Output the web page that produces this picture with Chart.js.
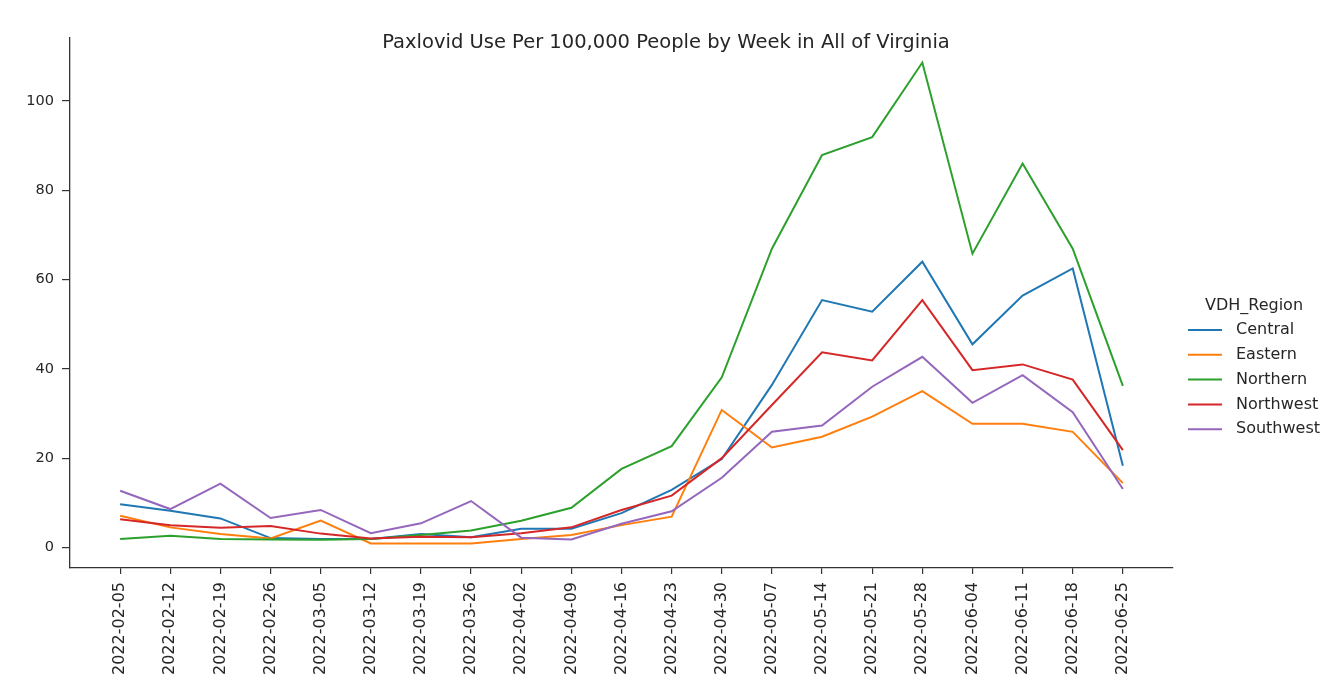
<!DOCTYPE html>
<html>
<head>
<meta charset="utf-8">
<title>Paxlovid Use Per 100,000 People by Week</title>
<script src="https://cdn.jsdelivr.net/npm/chart.js@4/dist/chart.umd.min.js"></script>
<style>
    html, body {
        margin: 0;
        padding: 0;
        background: #ffffff;
        overflow: hidden;
    }
    #chart-wrap {
        width: 1325px;
        height: 685px;
    }
</style>
</head>
<body>
<div id="chart-wrap">
    <canvas id="paxlovidChart" width="1325" height="685"></canvas>
</div>
<script>
const weeks = [
    "2022-02-05", "2022-02-12", "2022-02-19", "2022-02-26", "2022-03-05",
    "2022-03-12", "2022-03-19", "2022-03-26", "2022-04-02", "2022-04-09",
    "2022-04-16", "2022-04-23", "2022-04-30", "2022-05-07", "2022-05-14",
    "2022-05-21", "2022-05-28", "2022-06-04", "2022-06-11", "2022-06-18",
    "2022-06-25",
];

const central = [9.7, 8.2, 6.5, 2.1, 1.9, 1.9, 3.0, 2.3, 4.2, 4.2, 7.7, 12.9, 19.8, 36.4, 55.4, 52.8, 64.0, 45.5, 56.4, 62.5, 18.3];
const eastern = [7.1, 4.5, 3.0, 2.0, 6.0, 0.9, 0.9, 0.9, 1.9, 2.8, 5.0, 6.9, 30.8, 22.4, 24.8, 29.3, 35.0, 27.7, 27.7, 25.9, 14.4];
const northern = [1.9, 2.6, 1.9, 1.8, 1.7, 1.9, 2.8, 3.8, 6.0, 8.9, 17.6, 22.7, 38.1, 66.9, 87.9, 91.9, 108.6, 65.8, 86.0, 66.9, 36.2];
const northwest = [6.3, 5.0, 4.4, 4.8, 3.1, 2.0, 2.4, 2.3, 3.2, 4.5, 8.4, 11.6, 20.0, 31.9, 43.7, 41.9, 55.4, 39.7, 41.0, 37.6, 21.8];
const southwest = [12.7, 8.6, 14.3, 6.6, 8.4, 3.2, 5.4, 10.4, 2.2, 1.8, 5.3, 8.1, 15.6, 25.9, 27.3, 36.0, 42.7, 32.4, 38.6, 30.3, 13.1];

const regionNames = ["Central", "Eastern", "Northern", "Northwest", "Southwest"];
const regionValues = [central, eastern, northern, northwest, southwest];
const regionColors = ["#1f77b4", "#ff7f0e", "#2ca02c", "#d62728", "#9467bd"];

const yTicks = [0, 20, 40, 60, 80, 100];

const chartTitle = "Paxlovid Use Per 100,000 People by Week in All of Virginia";
const legendTitle = "VDH_Region";

const FONT = "'DejaVu Sans', sans-serif";
const TEXT_COLOR = "#262626";
const AXIS_COLOR = "#333333";

// title + legend are drawn by hand so they sit where matplotlib put them
const figureText = {
    id: "figureText",
    afterDraw(chart) {
        const ctx = chart.ctx;
        ctx.save();
        ctx.fillStyle = TEXT_COLOR;
        ctx.font = "19.5px " + FONT;
        ctx.textAlign = "center";
        ctx.textBaseline = "middle";
        ctx.fillText(chartTitle, 666, 43);

        ctx.font = "16px " + FONT;
        ctx.fillText(legendTitle, 1254, 306);

        ctx.textAlign = "left";
        chart.data.datasets.forEach((ds, i) => {
            const y = 330 + i * 24.8;
            ctx.strokeStyle = ds.borderColor;
            ctx.lineWidth = 2;
            ctx.beginPath();
            ctx.moveTo(1188, y);
            ctx.lineTo(1222, y);
            ctx.stroke();
            ctx.fillStyle = TEXT_COLOR;
            ctx.fillText(ds.label, 1236, y);
        });
        ctx.restore();
    },
};

function buildDatasets() {
    return regionNames.map((name, i) => ({
        label: name,
        data: regionValues[i].map((v, j) => ({ x: j, y: v })),
        borderColor: regionColors[i],
        backgroundColor: regionColors[i],
        borderWidth: 2,
        pointRadius: 0,
        tension: 0,
        fill: false,
        order: regionNames.length - i,
    }));
}

function renderChart() {
    const ctx = document.getElementById("paxlovidChart");

    new Chart(ctx, {
        type: "line",
        data: {
            datasets: buildDatasets(),
        },
        plugins: [figureText],
        options: {
            responsive: false,
            animation: false,
            layout: {
                padding: { top: 38, right: 152, bottom: 0, left: 0 },
            },
            plugins: {
                legend: { display: false },
                title: { display: false },
                tooltip: { enabled: false },
            },
            scales: {
                x: {
                    type: "linear",
                    min: -1,
                    max: weeks.length,
                    afterBuildTicks: (scale) => {
                        scale.ticks = weeks.map((w, i) => ({ value: i }));
                    },
                    afterFit: (scale) => {
                        scale.height = 117;
                    },
                    ticks: {
                        autoSkip: false,
                        minRotation: 90,
                        maxRotation: 90,
                        padding: 8,
                        color: TEXT_COLOR,
                        font: { family: FONT, size: 16 },
                        callback: (value) => weeks[value],
                    },
                    grid: {
                        display: true,
                        drawOnChartArea: false,
                        drawTicks: true,
                        tickLength: 6,
                        color: AXIS_COLOR,
                        lineWidth: 1.2,
                    },
                    border: { display: true, color: AXIS_COLOR, width: 1.3 },
                },
                y: {
                    type: "linear",
                    min: -4.6,
                    max: 114.1,
                    afterBuildTicks: (scale) => {
                        scale.ticks = yTicks.map((v) => ({ value: v }));
                    },
                    afterFit: (scale) => {
                        scale.width = 70;
                    },
                    ticks: {
                        padding: 8,
                        color: TEXT_COLOR,
                        font: { family: FONT, size: 14.5 },
                    },
                    grid: {
                        display: true,
                        drawOnChartArea: false,
                        drawTicks: true,
                        tickLength: 8,
                        color: AXIS_COLOR,
                        lineWidth: 1.2,
                    },
                    border: { display: true, color: AXIS_COLOR, width: 1.3 },
                },
            },
        },
    });
}

renderChart();
</script>
</body>
</html>
